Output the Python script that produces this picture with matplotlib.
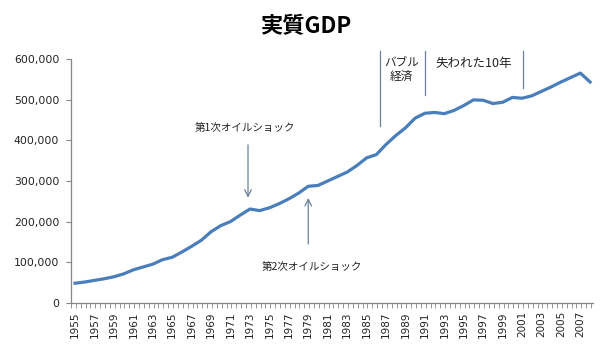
import numpy as np
import matplotlib
matplotlib.use("Agg")
import matplotlib.pyplot as plt
from matplotlib.ticker import FuncFormatter

plt.rcParams['font.family'] = ['DejaVu Sans', 'Noto Sans CJK JP']
jp = ['Noto Sans CJK JP', 'DejaVu Sans']

# 実質GDP（値はグラフから読み取り）
years = list(range(1955, 2009))
gdp = [48000, 51000, 55000, 59000, 64000, 71000, 81000, 88000, 95000, 106000,
       112000, 125000, 139000, 154000, 175000, 190000, 200000, 216000, 231000, 227000,
       234000, 244000, 256000, 270000, 287000, 289000, 300000, 311000, 322000, 338000,
       357000, 365000, 390000, 412000, 431000, 455000, 467000, 469000, 466000, 474000,
       486000, 500000, 499000, 491000, 494000, 506000, 504000, 510000, 521000, 532000,
       544000, 555000, 566000, 544000]
label_years = list(range(1955, 2008, 2))
yticks = [0, 100000, 200000, 300000, 400000, 500000, 600000]

# 期間の区切り線（バブル経済・失われた10年）
period_lines = [1986.4, 1991.0, 2001.1]
period_bottoms = [435000, 512000, 529000]

fig = plt.figure(figsize=(6.05, 3.62), dpi=100)
ax = fig.add_axes([0.1174, 0.1638, 0.8628, 0.6724])

ax.plot(years, gdp, color='#4a7ebb', lw=2.3, solid_joinstyle='round', zorder=3)

ax.set_xlim(1954.59, 2008.3)
ax.set_ylim(0, 600000)
ax.set_yticks(yticks)
ax.yaxis.set_major_formatter(FuncFormatter(lambda v, p: f'{int(v):,}'))
ax.set_xticks(label_years)
ax.set_xticklabels([str(y) for y in label_years], rotation=90)
ax.set_xticks(np.arange(1954.59, 2008.35, 0.5), minor=True)

for s in ['top', 'right']:
    ax.spines[s].set_visible(False)
for s in ['left', 'bottom']:
    ax.spines[s].set_color('#868686')
    ax.spines[s].set_linewidth(0.9)
ax.tick_params(axis='x', which='major', length=0, pad=6, labelsize=7.5, colors='#222222')
ax.tick_params(axis='x', which='minor', length=3.5, color='#868686', direction='out')
ax.tick_params(axis='y', length=3.5, pad=5, labelsize=7.8, colors='#222222')
ax.tick_params(axis='y', color='#868686')

fig.text(0.505, 0.925, '実質GDP', ha='center', va='center', fontsize=16,
         fontweight='bold', family=jp)

# オイルショックの注記
ax.annotate('', xy=(1972.8, 252000), xytext=(1972.8, 396000),
            arrowprops=dict(arrowstyle='->', color='#6d7f99', lw=0.9,
                            mutation_scale=12))
ax.text(1972.5, 431000, '第1次オイルショック', ha='center', va='center',
        fontsize=7.6, family=jp, color='#222222')
ax.annotate('', xy=(1979.0, 265000), xytext=(1979.0, 138000),
            arrowprops=dict(arrowstyle='->', color='#6d7f99', lw=0.9,
                            mutation_scale=12))
ax.text(1979.4, 89000, '第2次オイルショック', ha='center', va='center',
        fontsize=7.6, family=jp, color='#222222')

for x, b in zip(period_lines, period_bottoms):
    ax.plot([x, x], [b, 620000], color='#6d7f99', lw=0.9, clip_on=False)

ax.text(1988.6, 590000, 'バブル', ha='center', va='center', fontsize=8.4, family=jp, color='#222222')
ax.text(1988.6, 557000, '経済', ha='center', va='center', fontsize=8.4, family=jp, color='#222222')
ax.text(1996.0, 590000, '失われた10年', ha='center', va='center', fontsize=9, family=jp, color='#222222')

fig.savefig('out.png', dpi=100)
